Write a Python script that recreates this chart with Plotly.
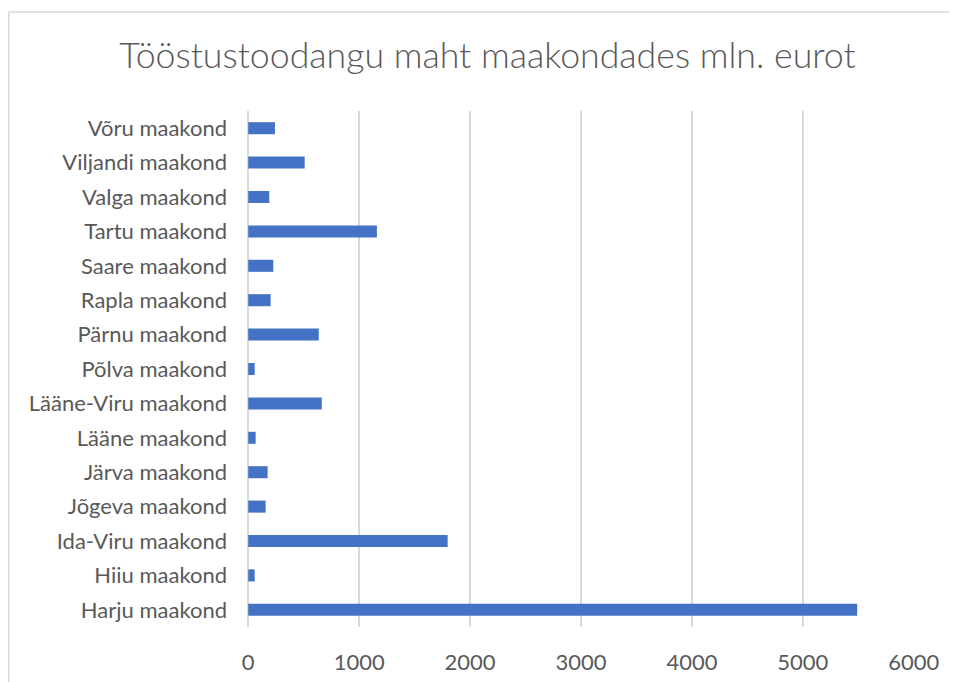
import plotly.graph_objects as go

categories = ["Harju maakond", "Hiiu maakond", "Ida-Viru maakond", "Jõgeva maakond",
              "Järva maakond", "Lääne maakond", "Lääne-Viru maakond", "Põlva maakond",
              "Pärnu maakond", "Rapla maakond", "Saare maakond", "Tartu maakond",
              "Valga maakond", "Viljandi maakond", "Võru maakond"]
values = [5490, 58, 1798, 157, 175, 67, 663, 58, 636, 202, 226, 1160, 190, 509, 241]
x_ticks = [0, 1000, 2000, 3000, 4000, 5000, 6000]
title_text = "Tööstustoodangu maht maakondades mln. eurot"

# page body has an 8px default margin, so the figure is offset by 8px
OFF = 8
W, H = 957 - OFF, 682 - OFF
L, R, T, B = 248 - OFF, 914 - OFF, 111 - OFF, 627 - OFF

fig = go.Figure(go.Bar(
    x=values, y=categories, orientation="h",
    marker=dict(color="#4472C4", line=dict(width=0)),
    width=0.35,
))

def px(x):
    return (x - OFF - L) / (R - L)

def py(y):
    return (B - (y - OFF)) / (B - T)

border = dict(color="#d9d9d9", width=1.5)
fig.add_shape(type="line", xref="paper", yref="paper",
              x0=px(8.8), x1=px(960), y0=py(12), y1=py(12), line=border)
fig.add_shape(type="line", xref="paper", yref="paper",
              x0=px(8.8), x1=px(8.8), y0=py(12), y1=py(690), line=border)

fig.update_layout(
    width=W, height=H,
    margin=dict(l=L, r=W - R, t=T, b=H - B, autoexpand=False),
    paper_bgcolor="white", plot_bgcolor="white",
    font=dict(family="Lato", color="#595959", size=22),
    title=dict(text=title_text, x=(487.5 - OFF) / W, xanchor="center", xref="container",
               y=1 - (56 - OFF) / H, yanchor="middle", yref="container",
               font=dict(family="Lato", size=35.7, color="#595959", weight=300)),
    showlegend=False,
)
fig.update_xaxes(range=[-2, 6002], tickvals=x_ticks, showgrid=True,
                 gridcolor="#d9d9d9", gridwidth=1.5, zeroline=True,
                 zerolinecolor="#d9d9d9", zerolinewidth=1.5,
                 showline=False, ticks="", ticklabelstandoff=20, automargin=False,
                 tickfont=dict(size=22, color="#595959"))
fig.update_yaxes(showgrid=False, showline=False, ticks="", ticklabelstandoff=20,
                 automargin=False, tickfont=dict(size=22, color="#595959"))

fig.write_html("out.html")
